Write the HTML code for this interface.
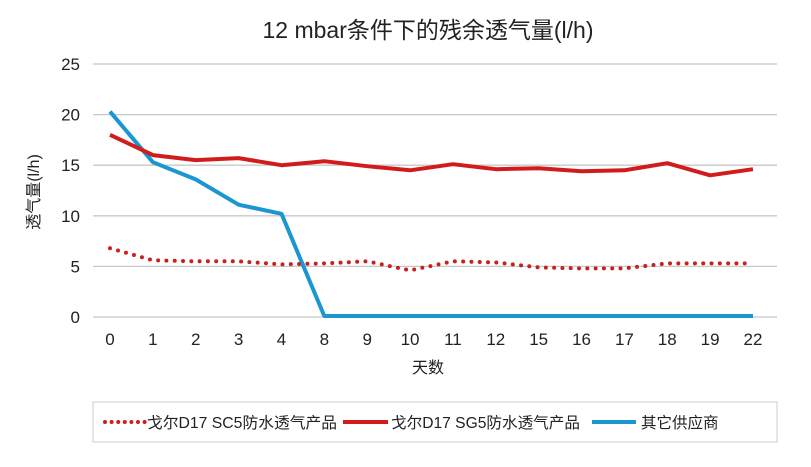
<!DOCTYPE html>
<html><head><meta charset="utf-8">
<style>
body{margin:0;background:#fff;width:811px;height:462px;overflow:hidden;font-family:"Liberation Sans","Noto Sans CJK SC",sans-serif;}
</style></head>
<body>
<svg id="chart" width="811" height="462" xmlns="http://www.w3.org/2000/svg" font-family="Liberation Sans, Noto Sans CJK SC, sans-serif">
<text x="428" y="38" font-size="23" text-anchor="middle" fill="#222">12 mbar条件下的残余透气量(l/h)</text>
<g id="grid"></g>
<g id="ylabels"></g>
<g id="xlabels"></g>
<text transform="translate(39,192) rotate(-90)" font-size="16" text-anchor="middle" fill="#222">透气量(l/h)</text>
<text x="428" y="373" font-size="16" text-anchor="middle" fill="#222">天数</text>
<g id="series"></g>
<g>
<rect x="93" y="402" width="684" height="40" fill="#fff" stroke="#ccc" stroke-width="1"/>
<line x1="105" y1="422" x2="145" y2="422" stroke="#d21c1c" stroke-width="4" stroke-linecap="round" stroke-dasharray="0 6.6"/>
<text x="147" y="428" font-size="15.5" fill="#222" textLength="190" lengthAdjust="spacingAndGlyphs">戈尔D17 SC5防水透气产品</text>
<line x1="343" y1="422" x2="388" y2="422" stroke="#d21c1c" stroke-width="4"/>
<text x="391" y="428" font-size="15.5" fill="#222" textLength="189" lengthAdjust="spacingAndGlyphs">戈尔D17 SG5防水透气产品</text>
<line x1="592" y1="422" x2="636" y2="422" stroke="#1a96d0" stroke-width="4"/>
<text x="641" y="428" font-size="15.5" fill="#222">其它供应商</text>
</g>
</svg>
<script>
const categories=["0","1","2","3","4","8","9","10","11","12","15","16","17","18","19","22"];
const sc5=[6.8,5.6,5.5,5.5,5.2,5.3,5.5,4.6,5.5,5.4,4.9,4.8,4.8,5.3,5.3,5.3];
const sg5=[18,16,15.5,15.7,15,15.4,14.9,14.5,15.1,14.6,14.7,14.4,14.5,15.2,14,14.6];
const other=[20.3,15.3,13.6,11.1,10.2,0.1,0.1,0.1,0.1,0.1,0.1,0.1,0.1,0.1,0.1,0.1];
const yTicks=[0,5,10,15,20,25];
const NS="http://www.w3.org/2000/svg";
const x=i=>110+i*(753-110)/(categories.length-1);
const y=v=>317-v*(317-64)/25;
function mk(tag,attrs,parent){const e=document.createElementNS(NS,tag);for(const k in attrs)e.setAttribute(k,attrs[k]);parent.appendChild(e);return e;}
const grid=document.getElementById('grid'),yl=document.getElementById('ylabels'),xl=document.getElementById('xlabels'),ser=document.getElementById('series');
yTicks.forEach(t=>{
 const l=mk('line',{x1:93,x2:777,y1:y(t),y2:y(t),stroke:'#c8c8c8','stroke-width':1.3},grid);
 
 
 const tx=mk('text',{x:80,y:y(t)+6,'font-size':17,'text-anchor':'end',fill:'#222'},yl);
 
 
 tx.textContent=t;
});
categories.forEach((c,i)=>{
 const tx=mk('text',{x:x(i),y:345,'font-size':17,'text-anchor':'middle',fill:'#222'},xl);
 
 
 tx.textContent=c;
});
function line(data,color,name,dash){
 const pts=data.map((v,i)=>x(i).toFixed(1)+','+y(v).toFixed(1)).join(' ');
 const a={points:pts,fill:'none',stroke:color,'stroke-width':4,'stroke-linejoin':'round'};
 if(dash){a['stroke-dasharray']='0 8.3';a['stroke-linecap']='round';}
 const p=mk('polyline',a,ser);
 
 
}
line(other,'#1a96d0','series-other-suppliers',false);
line(sg5,'#d21c1c','series-sg5',false);
line(sc5,'#c62020','series-sc5',true);
</script>
</body></html>
